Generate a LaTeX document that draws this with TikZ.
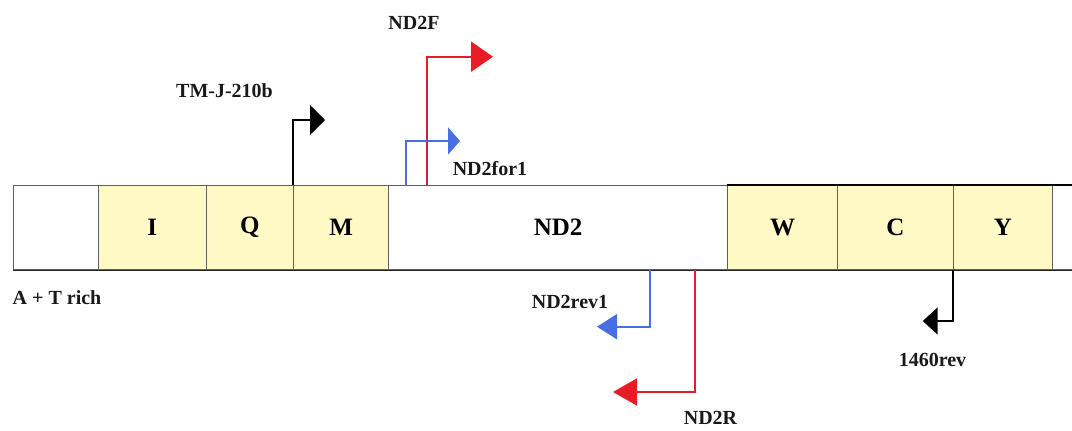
\documentclass[tikz,border=0pt]{standalone}
\usepackage{fontspec}
\setmainfont{Liberation Serif}
\usetikzlibrary{arrows.meta}
\definecolor{boxyellow}{RGB}{255,249,198}
\definecolor{pblue}{RGB}{72,110,228}
\definecolor{pred}{RGB}{232,28,36}
\definecolor{pcrimson}{RGB}{196,36,64}
\definecolor{edgegray}{RGB}{95,95,95}
\begin{document}
\begin{tikzpicture}[x=1pt,y=-1pt,
  seg/.style={draw=edgegray, line width=1.2pt, minimum height=84pt, inner sep=0pt,
    anchor=north west, font=\bfseries\fontsize{25}{30}\selectfont},
  gene/.style={seg, fill=boxyellow},
  spacer/.style={seg, fill=white},
  lbl/.style={font=\bfseries\fontsize{20}{24}\selectfont, inner sep=0pt, text=black!90},
  primer/.style={line width=2pt},
]
\clip (0,0) rectangle (1072,431);
\fill[white] (0,0) rectangle (1072,431);
% strip
\node[spacer, minimum width=85pt]    (AT)  at (13,185)    {};
\node[gene,   minimum width=107.5pt] (I)   at (98,185)    {I};
\node[gene,   minimum width=87.5pt]  (Q)   at (205.5,185) {Q};
\node[gene,   minimum width=95pt]    (M)   at (293,185)   {M};
\node[spacer, minimum width=339pt]   (ND2) at (388,185)   {ND2};
\node[gene,   minimum width=110pt]   (W)   at (727,185)   {W};
\node[gene,   minimum width=115.5pt] (C)   at (837,185)   {C};
\node[gene,   minimum width=99.5pt]  (Y)   at (952.5,185) {Y};
\node[spacer, minimum width=60pt]    (end) at (1052,185)  {};
\draw[black, line width=2pt] (W.north west) -- (end.north east);
\draw[black!85, line width=1.3pt] (AT.south west) -- (end.south east);
% primer coordinates
\coordinate (fBase)  at (427,185);
\coordinate (fMid)   at (427,80);
\coordinate (fTip)   at (493,56.7);
\coordinate (f1Base) at (406,185);
\coordinate (f1Tip)  at (460,141);
\coordinate (tmTip)  at (325,120);
\coordinate (r1Base) at (649.5,269);
\coordinate (r1Tip)  at (597,326.7);
\coordinate (rBase)  at (695,269);
\coordinate (rTip)   at (613,392);
\coordinate (revTip) at (922.7,321);
% primers
\draw[primer, black, -{Triangle[length=15pt,width=30pt]}] (M.north west) |- (tmTip);
\draw[primer, pred, -{Triangle[length=22pt,width=30pt]}] (fBase) |- (fTip);
\draw[primer, pcrimson] (fBase) -- (fMid);
\draw[primer, pblue, -{Triangle[length=12pt,width=27pt]}] (f1Base) |- (f1Tip);
\draw[primer, pblue, -{Triangle[length=20pt,width=25pt]}] (r1Base) |- (r1Tip);
\draw[primer, pred, -{Triangle[length=24pt,width=27pt]}] (rBase) |- (rTip);
\draw[primer, black, -{Triangle[length=15pt,width=27pt]}] (Y.south west) |- (revTip);
% labels
\node[lbl] (tmL)  at (224.5,91)  {TM-J-210b};
\node[lbl] (fL)   at (414,23)    {ND2F};
\node[lbl] (f1L)  at (490,169)   {ND2for1};
\node[lbl] (r1L)  at (570,301.5) {ND2rev1};
\node[lbl] (rL)   at (710.5,418) {ND2R};
\node[lbl] (revL) at (932.5,360) {1460rev};
\node[lbl] (atL)  at (57,298)    {A + T rich};
\end{tikzpicture}
\end{document}
